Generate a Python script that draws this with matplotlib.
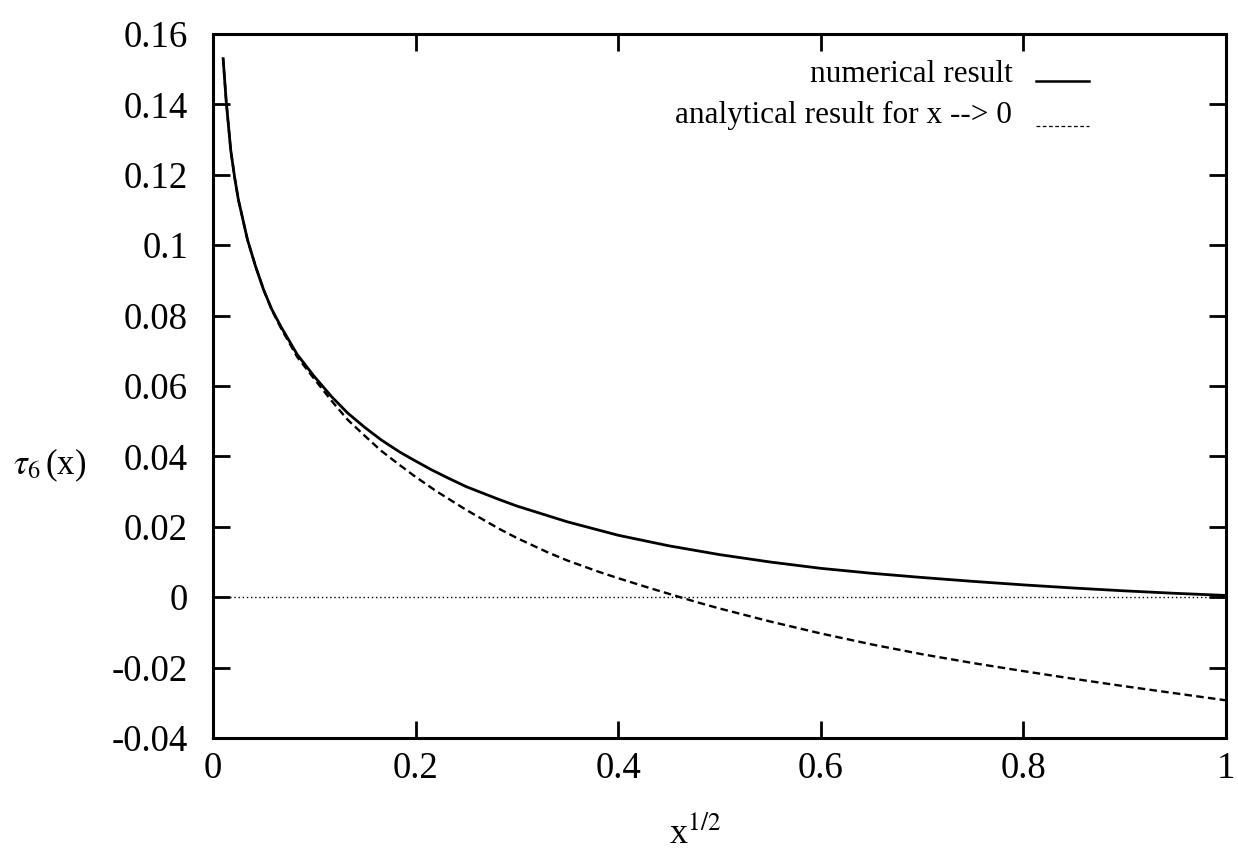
import matplotlib
matplotlib.use("Agg")
import matplotlib.pyplot as plt

plt.rcParams['font.family'] = ['Liberation Serif', 'DejaVu Serif']
plt.rcParams['mathtext.fontset'] = 'stix'

# numerical result
num_x = [0.010, 0.013, 0.0175, 0.0215, 0.025, 0.034, 0.042, 0.050, 0.058, 0.067, 0.083, 0.100,
         0.117, 0.133, 0.150, 0.166, 0.184, 0.198, 0.215, 0.231, 0.250, 0.282, 0.300, 0.350,
         0.400, 0.450, 0.500, 0.550, 0.600, 0.650, 0.700, 0.750, 0.800, 0.850, 0.900, 0.950, 1.000]
num_y = [0.153, 0.141, 0.127, 0.119, 0.113, 0.1016, 0.094, 0.0873, 0.0818, 0.0769, 0.0690, 0.0627,
         0.0570, 0.0523, 0.0482, 0.0447, 0.0413, 0.0390, 0.0363, 0.0340, 0.0314, 0.0278, 0.0259, 0.0214,
         0.0176, 0.0146, 0.0121, 0.0100, 0.0082, 0.0068, 0.0056, 0.0045, 0.0035, 0.0026, 0.0018, 0.0011, 0.0005]

# analytical result for x -> 0
ana_x = [0.010, 0.013, 0.0175, 0.0215, 0.025, 0.034, 0.042, 0.050, 0.058, 0.067, 0.083, 0.100,
         0.117, 0.133, 0.150, 0.166, 0.184, 0.198, 0.220, 0.250, 0.282, 0.300, 0.330, 0.350,
         0.381, 0.400, 0.430, 0.460, 0.480, 0.500, 0.550, 0.600, 0.650, 0.700, 0.750, 0.800,
         0.850, 0.900, 0.950, 1.000]
ana_y = [0.153, 0.141, 0.127, 0.119, 0.113, 0.1016, 0.094, 0.0873, 0.0816, 0.0765, 0.0683, 0.0620,
         0.0558, 0.0504, 0.0458, 0.0416, 0.0376, 0.0346, 0.0302, 0.0248, 0.0195, 0.0168, 0.0128, 0.0104,
         0.0072, 0.0054, 0.0027, 0.0001, -0.0016, -0.0032, -0.0069, -0.0103, -0.0134, -0.0162, -0.0187,
         -0.0210, -0.0232, -0.0253, -0.0273, -0.0293]

zero_x = [0.0, 1.0]
zero_y = [0.0, 0.0]

x_ticks = [0, 0.2, 0.4, 0.6, 0.8, 1]
x_ticklabels = ['0', '0.2', '0.4', '0.6', '0.8', '1']
y_ticks = [-0.04, -0.02, 0, 0.02, 0.04, 0.06, 0.08, 0.1, 0.12, 0.14, 0.16]
y_ticklabels = ['-0.04', '-0.02', '0', '0.02', '0.04', '0.06', '0.08', '0.1', '0.12', '0.14', '0.16']

legend_labels = ['numerical result', 'analytical result for x --> 0']

W, H = 1238, 849
fig = plt.figure(figsize=(W / 100, H / 100), dpi=100)
ax = fig.add_axes([213 / W, 1 - 738 / H, (1226 - 213) / W, (738 - 34) / H])

ax.plot(zero_x, zero_y, color='black', lw=1.0, linestyle=(0, (1, 2)))
ax.plot(num_x, num_y, color='black', lw=2.0)
ax.plot(ana_x, ana_y, color='black', lw=1.7, linestyle=(0, (3.2, 1.8)))

ax.set_xlim(0, 1)
ax.set_ylim(-0.04, 0.16)
ax.set_xticks(x_ticks)
ax.set_xticklabels(x_ticklabels)
ax.set_yticks(y_ticks)
ax.set_yticklabels(y_ticklabels)
ax.tick_params(direction='in', length=12, width=2, top=True, right=True,
               labelsize=26.5)
ax.tick_params(axis='y', pad=18)
ax.tick_params(axis='x', pad=10)
for s in ax.spines.values():
    s.set_linewidth(2.2)

# legend (gnuplot style: right-aligned text, sample to the right)
ax.text(0.789, 0.932, legend_labels[0], transform=ax.transAxes, ha='right', va='baseline', fontsize=22.5)
ax.text(0.789, 0.874, legend_labels[1], transform=ax.transAxes, ha='right', va='baseline', fontsize=22.5)
ax.plot([0.8126, 0.865], [0.933, 0.933], transform=ax.transAxes, color='black', lw=1.8)
ax.plot([0.8126, 0.865], [0.869, 0.869], transform=ax.transAxes, color='black', lw=0.9,
        linestyle=(0, (3, 2)))

fig.text(50 / W, 1 - 465 / H, r'$\tau_6\,$(x)', ha='center', va='center', fontsize=25)
fig.text(695 / W, 1 - 843 / H, r'x$^{1/2}$', ha='center', va='baseline', fontsize=26)

fig.savefig('out.png', dpi=100)
